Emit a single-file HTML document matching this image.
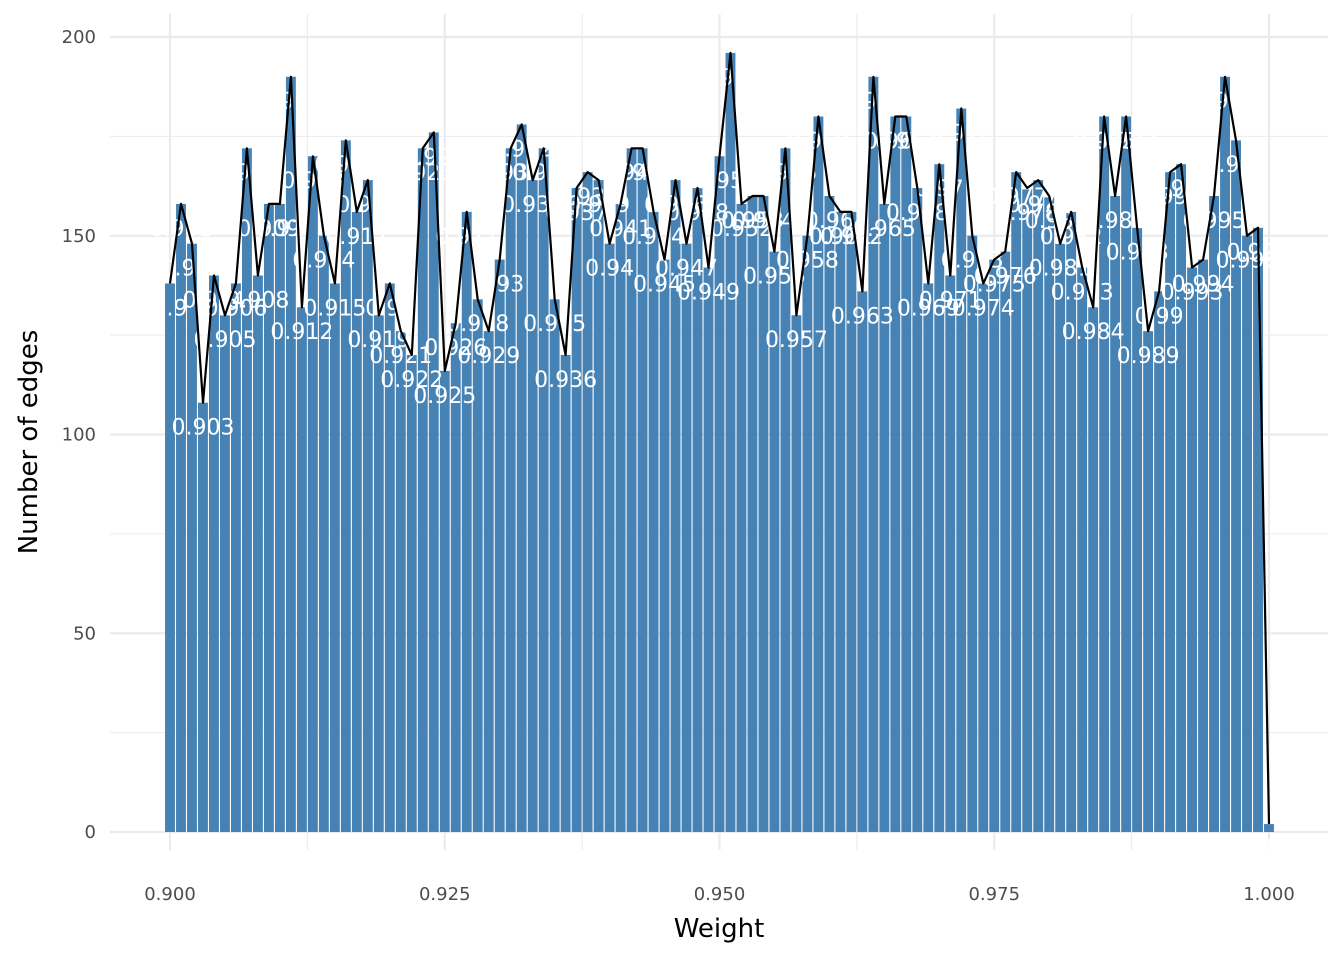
<!DOCTYPE html>
<html><head><meta charset="utf-8"><style>
body{margin:0;background:#fff}
svg text{font-family:"DejaVu Sans","Liberation Sans",sans-serif}
</style></head><body>
<svg id="chart" width="1344" height="960" xmlns="http://www.w3.org/2000/svg">
<g id="grid"></g>
<g id="bars"></g>
<g id="labels"></g>
<path id="line" fill="none" stroke="#000" stroke-width="2.2" stroke-linejoin="round"/>
<g id="axes"></g>
<text x="719" y="937" font-size="26" text-anchor="middle" fill="#000">Weight</text>
<text transform="translate(37,442) rotate(-90)" font-size="26" text-anchor="middle" fill="#000">Number of edges</text>
</svg>
<script>
const weights=[];for(let i=0;i<=100;i++)weights.push(+(0.9+i*0.001).toFixed(3));
const counts=[138,158,148,108,140,130,138,172,140,158,158,190,132,170,150,138,174,156,164,130,138,126,120,172,176,116,128,156,134,126,144,172,178,164,172,134,120,162,166,164,148,158,172,172,156,144,164,148,162,142,170,196,158,160,160,146,172,130,150,180,160,156,156,136,190,158,180,180,162,138,168,140,182,150,138,144,146,166,162,164,160,148,156,142,132,180,160,180,152,126,136,166,168,142,144,160,190,174,150,152,2];
const xTicks=[0.9,0.925,0.95,0.975,1.0];
const xTickLabels=["0.900","0.925","0.950","0.975","1.000"];
const yTicks=[0,50,100,150,200];
const NS="http://www.w3.org/2000/svg";
const X=v=>170+(v-0.9)*10990;
const Y=v=>832-v*3.975;
function mk(tag,attrs,parent){const e=document.createElementNS(NS,tag);for(const k in attrs)e.setAttribute(k,attrs[k]);parent.appendChild(e);return e;}
const grid=document.getElementById('grid'),bars=document.getElementById('bars'),labels=document.getElementById('labels'),axes=document.getElementById('axes');
for(let i=0;i<xTicks.length;i++){
  const l=mk('line',{x1:X(xTicks[i]),x2:X(xTicks[i]),y1:14,y2:850,stroke:'#ebebeb','stroke-width':2.2},grid);
  
  
  if(i<xTicks.length-1){const m=mk('line',{x1:X(xTicks[i]+0.0125),x2:X(xTicks[i]+0.0125),y1:14,y2:850,stroke:'#ebebeb','stroke-width':1.1},grid);
  
  }
  const t=mk('text',{x:X(xTicks[i]),y:900,'font-size':18,'text-anchor':'middle',fill:'#4d4d4d'},axes);t.textContent=xTickLabels[i];
  
  
}
for(let i=0;i<yTicks.length;i++){
  const l=mk('line',{x1:110,x2:1328,y1:Y(yTicks[i]),y2:Y(yTicks[i]),stroke:'#ebebeb','stroke-width':2.2},grid);
  
  
  if(i<yTicks.length-1){const m=mk('line',{x1:110,x2:1328,y1:Y(yTicks[i]+25),y2:Y(yTicks[i]+25),stroke:'#ebebeb','stroke-width':1.1},grid);
  
  }
  const t=mk('text',{x:96,y:Y(yTicks[i])+6,'font-size':18,'text-anchor':'end',fill:'#4d4d4d'},axes);t.textContent=yTicks[i];
  
  
}
let d='';
for(let i=0;i<weights.length;i++){
  const w=weights[i],c=counts[i],x=X(w);
  const r=mk('rect',{x:x-4.95,y:Y(c),width:9.9,height:Y(0)-Y(c),fill:'#4682b4'},bars);
  
  
  d+=(i?'L':'M')+x.toFixed(1)+','+Y(c).toFixed(1);
}
for(let i=0;i<weights.length;i++){
  const t=mk('text',{x:X(weights[i]),y:Y(counts[i]-6)+8,'font-size':22,'text-anchor':'middle',fill:'#fff'},labels);
  t.textContent=String(weights[i]);
  
  
}
document.getElementById('line').setAttribute('d',d);
</script>
</body></html>
